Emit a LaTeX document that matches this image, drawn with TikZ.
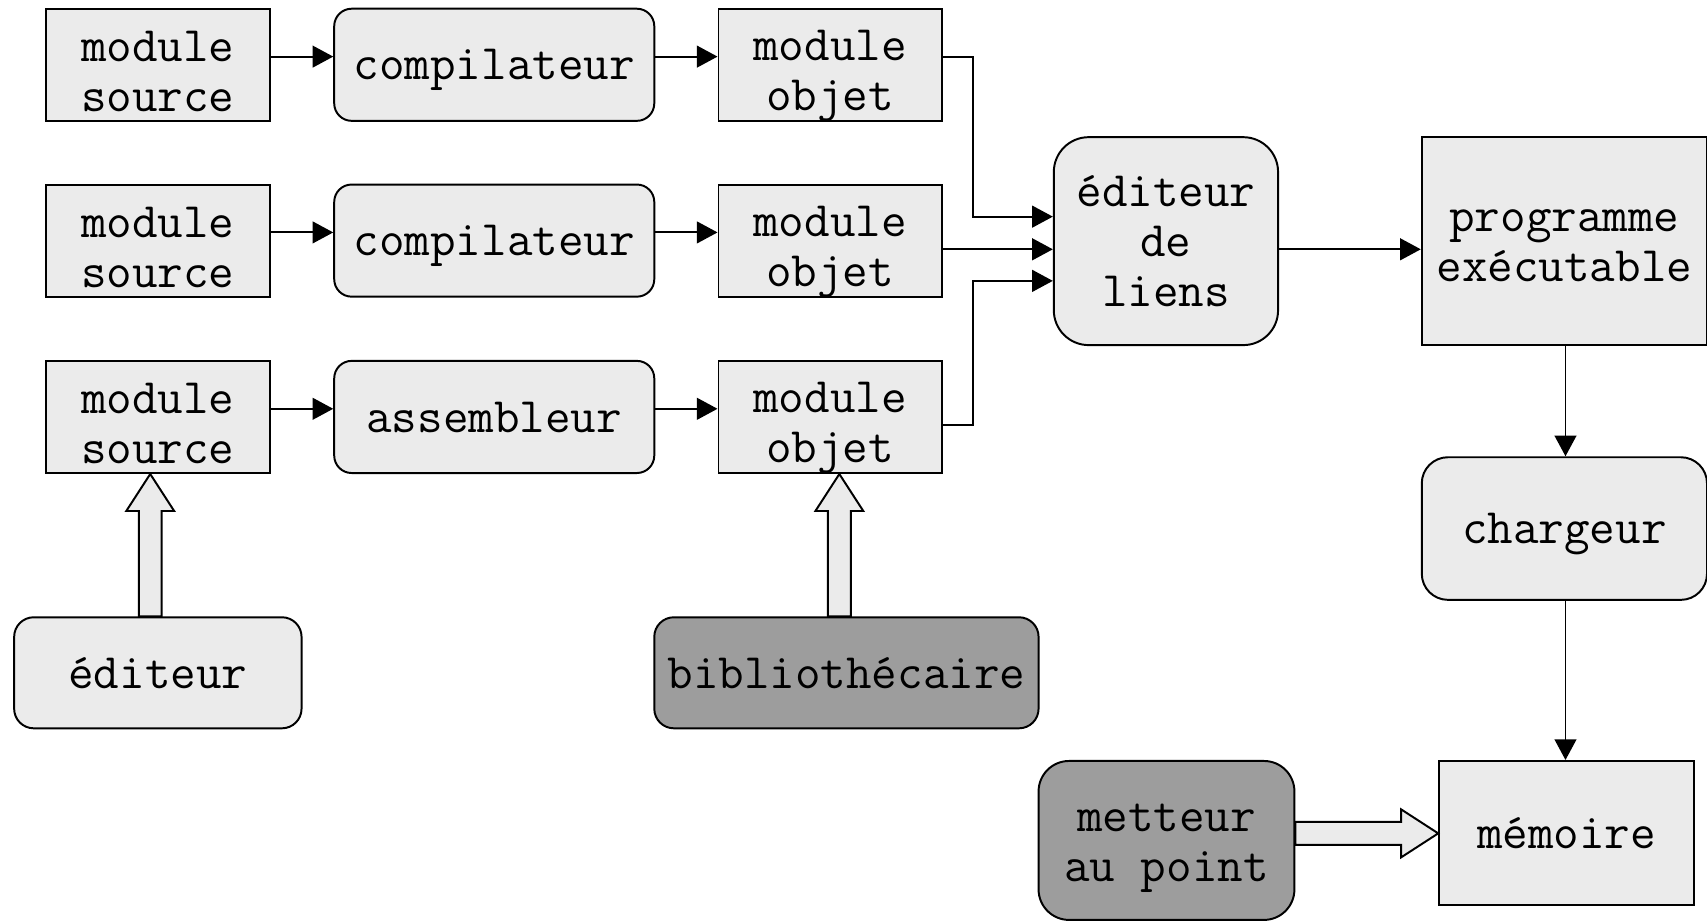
\documentclass[tikz,border=0pt]{standalone}
\usetikzlibrary{arrows.meta,calc}
\definecolor{lightfill}{RGB}{235,235,235}
\definecolor{darkfill}{RGB}{157,157,157}
\newcommand\dn[2][3pt]{\raisebox{-#1}[\height][\depth]{#2}}
\tikzset{
  base/.style={draw=black, line width=0.9pt, inner sep=0pt, align=center,
    font=\ttfamily\fontsize{22.8}{23}\selectfont, fill=lightfill},
  one/.style={text depth=0pt},
  sqbox/.style={base},
  modbox/.style={base, minimum width=103pt, minimum height=51.5pt},
  rbox/.style={base, rounded corners=8pt},
  darkbox/.style={base, rounded corners=9pt, fill=darkfill},
  arr/.style={line width=0.9pt, -{Triangle[length=9.5pt,width=10pt]}},
  hollow/.style={draw=black, line width=0.9pt, fill=lightfill, line join=miter}
}
\newcommand\hollowup[2]{\draw[hollow] let \p1=(#1), \p2=(#2) in
  (\x1-5.25pt,\y1) -- (\x1-5.25pt,\y2-17pt) -- (\x1-11pt,\y2-17pt) -- (\x2,\y2)
  -- (\x1+11pt,\y2-17pt) -- (\x1+5.25pt,\y2-17pt) -- (\x1+5.25pt,\y1) -- cycle;}
\newcommand\hollowright[2]{\draw[hollow] let \p1=(#1), \p2=(#2) in
  (\x1,\y1-5.25pt) -- (\x2-17pt,\y1-5.25pt) -- (\x2-17pt,\y1-11pt) -- (\x2,\y2)
  -- (\x2-17pt,\y1+11pt) -- (\x2-17pt,\y1+5.25pt) -- (\x1,\y1+5.25pt) -- cycle;}
\begin{document}
\begin{tikzpicture}[x=0.5pt,y=-0.5pt]
\useasboundingbox (0,0) rectangle (1568,846);
% row 1
\node[modbox] (s1) at (145,59.5) {\dn{module}\\\dn{source}};
\node[rbox, one, minimum width=147pt, minimum height=51.5pt] (c1) at (454,59.5) {compilateur};
\node[modbox, minimum width=102.5pt] (o1) at (762.5,59.5) {\dn[5.25pt]{module}\\\dn[5.25pt]{objet}};
% row 2
\node[modbox] (s2) at (145,221) {\dn{module}\\\dn{source}};
\node[rbox, one, minimum width=147pt, minimum height=51.5pt] (c2) at (454,221) {compilateur};
\node[modbox, minimum width=102.5pt] (o2) at (762.5,221) {\dn[5.25pt]{module}\\\dn[5.25pt]{objet}};
% row 3
\node[modbox] (s3) at (145,383) {\dn{module}\\\dn{source}};
\node[rbox, one, minimum width=147pt, minimum height=51.5pt] (a3) at (454,383) {assembleur};
\node[modbox, minimum width=102.5pt] (o3) at (762.5,383) {\dn[5.25pt]{module}\\\dn[5.25pt]{objet}};
% bottom tools
\node[rbox, one, rounded corners=9pt, minimum width=132pt, minimum height=51pt] (ed) at (145,618) {éditeur};
\node[darkbox, one, minimum width=176.5pt, minimum height=51pt] (bib) at (777.5,618) {bibliothécaire};
% right side
\node[rbox, rounded corners=16pt, minimum width=103pt, minimum height=95.5pt] (lnk) at (1071,221.5) {éditeur\\de\\liens};
\node[sqbox, minimum width=131pt, minimum height=95.5pt] (prog) at (1437,221.5) {\dn[2pt]{programme}\\\dn[2pt]{exécutable}};
\node[rbox, one, rounded corners=12pt, minimum width=131pt, minimum height=65.5pt] (chg) at (1437,485.5) {chargeur};
\node[sqbox, one, minimum width=117pt, minimum height=66pt] (mem) at (1439,765) {mémoire};
\node[darkbox, rounded corners=14pt, minimum width=117.5pt, minimum height=73pt] (dbg) at (1071.5,772) {\dn[3.5pt]{metteur}\\\dn[3.5pt]{au point}};
% row arrows
\foreach \r/\y in {1/52,2/213.5} {
  \draw[arr] (s\r.east |- 0,\y) -- (c\r.west |- 0,\y);
  \draw[arr] (c\r.east |- 0,\y) -- (o\r.west |- 0,\y);
}
\draw[arr] (s3.east |- 0,375.5) -- (a3.west |- 0,375.5);
\draw[arr] (a3.east |- 0,375.5) -- (o3.west |- 0,375.5);
% to linker
\coordinate (j) at (894,0);
\draw[arr] (o1.east |- 0,52) -| (j |- 0,199) -- (lnk.west |- 0,199);
\draw[arr] (o2.east |- 0,229) -- (lnk.west |- 0,229);
\draw[arr] (o3.east |- 0,390) -| (j |- 0,258) -- (lnk.west |- 0,258);
% linker to program, loader, memory
\draw[arr] (lnk.east |- 0,229) -- (prog.west |- 0,229);
\draw[arr] (prog.south -| 1438,0) -- (chg.north -| 1438,0);
\draw[arr] (chg.south -| 1438,0) -- (mem.north -| 1438,0);
% hollow arrows
\hollowup{ed.north -| 138,0}{s3.south -| 138,0}
\hollowup{bib.north -| 771,0}{o3.south -| 771,0}
\hollowright{dbg.east |- 0,765.5}{mem.west |- 0,765.5}
\end{tikzpicture}
\end{document}
